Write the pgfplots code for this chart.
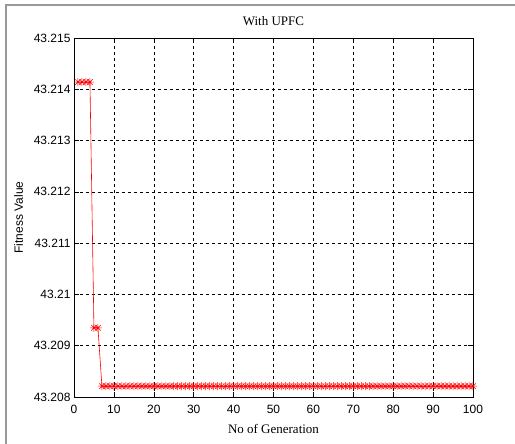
\documentclass[border=0pt]{standalone}
\usepackage{pgfplots}
\pgfplotsset{compat=1.18}
\usepackage{fontspec}
\setmainfont{Liberation Serif}
\newfontfamily\arial{Liberation Sans}
\pgfdeclareplotmark{mstar}{%
  \pgfpathmoveto{\pgfqpoint{-\pgfplotmarksize}{0pt}}\pgfpathlineto{\pgfqpoint{\pgfplotmarksize}{0pt}}%
  \pgfpathmoveto{\pgfqpoint{0pt}{-\pgfplotmarksize}}\pgfpathlineto{\pgfqpoint{0pt}{\pgfplotmarksize}}%
  \pgfpathmoveto{\pgfqpoint{-0.707\pgfplotmarksize}{-0.707\pgfplotmarksize}}\pgfpathlineto{\pgfqpoint{0.707\pgfplotmarksize}{0.707\pgfplotmarksize}}%
  \pgfpathmoveto{\pgfqpoint{-0.707\pgfplotmarksize}{0.707\pgfplotmarksize}}\pgfpathlineto{\pgfqpoint{0.707\pgfplotmarksize}{-0.707\pgfplotmarksize}}%
  \pgfusepathqstroke}
\begin{document}
\begin{tikzpicture}
\useasboundingbox (0,0) rectangle (515pt,444pt);
\fill[white] (0,0) rectangle (515pt,444pt);
\draw[gray!80, line width=1.2pt] (6pt,0) -- (6pt,439pt) -- (515pt,439pt);
\begin{axis}[
  at={(74pt,47pt)}, anchor=south west,
  scale only axis, width=399pt, height=359pt,
  xmin=0, xmax=100, ymin=43.208, ymax=43.215,
  xtick={0,10,...,100},
  xticklabels={0,10,20,30,40,50,60,70,80,90,100},
  ytick={43.208,43.209,43.210,43.211,43.212,43.213,43.214,43.215},
  yticklabels={43.208,43.209,43.21,43.211,43.212,43.213,43.214,43.215},
  scaled y ticks=false,
  /pgf/number format/assume math mode=true,
  tick label style={font=\arial\fontsize{12}{14}\selectfont},
  xticklabel style={yshift=-5pt},
  tick align=inside, major tick length=5pt,
  tick style={black, line width=0.5pt},
  grid=major,
  major grid style={black, dash pattern=on 3pt off 3pt, line width=0.5pt},
  axis line style={black, line width=0.8pt},
  title={With UPFC},
  title style={font=\fontsize{13}{15}\selectfont, at={(0.5,1)}, yshift=3pt},
  xlabel={No of Generation},
  xlabel style={font=\fontsize{13}{15}\selectfont, yshift=-3pt},
  ylabel={Fitness Value},
  ylabel style={font=\arial\fontsize{12}{14}\selectfont, yshift=4pt},
]
\addplot[red, line width=0.6pt, mark=mstar, mark size=4pt, mark options={solid, line width=0.5pt}] coordinates {
(1,43.21414)(2,43.21414)(3,43.21414)(4,43.21414)(5,43.20935)(6,43.20935)
(7,43.20821)(8,43.20821)(9,43.20821)(10,43.20821)(11,43.20821)(12,43.20821)(13,43.20821)(14,43.20821)(15,43.20821)(16,43.20821)
(17,43.20821)(18,43.20821)(19,43.20821)(20,43.20821)(21,43.20821)(22,43.20821)(23,43.20821)(24,43.20821)(25,43.20821)(26,43.20821)
(27,43.20821)(28,43.20821)(29,43.20821)(30,43.20821)(31,43.20821)(32,43.20821)(33,43.20821)(34,43.20821)(35,43.20821)(36,43.20821)
(37,43.20821)(38,43.20821)(39,43.20821)(40,43.20821)(41,43.20821)(42,43.20821)(43,43.20821)(44,43.20821)(45,43.20821)(46,43.20821)
(47,43.20821)(48,43.20821)(49,43.20821)(50,43.20821)(51,43.20821)(52,43.20821)(53,43.20821)(54,43.20821)(55,43.20821)(56,43.20821)
(57,43.20821)(58,43.20821)(59,43.20821)(60,43.20821)(61,43.20821)(62,43.20821)(63,43.20821)(64,43.20821)(65,43.20821)(66,43.20821)
(67,43.20821)(68,43.20821)(69,43.20821)(70,43.20821)(71,43.20821)(72,43.20821)(73,43.20821)(74,43.20821)(75,43.20821)(76,43.20821)
(77,43.20821)(78,43.20821)(79,43.20821)(80,43.20821)(81,43.20821)(82,43.20821)(83,43.20821)(84,43.20821)(85,43.20821)(86,43.20821)
(87,43.20821)(88,43.20821)(89,43.20821)(90,43.20821)(91,43.20821)(92,43.20821)(93,43.20821)(94,43.20821)(95,43.20821)(96,43.20821)
(97,43.20821)(98,43.20821)(99,43.20821)(100,43.20821)
};
\end{axis}
\end{tikzpicture}
\end{document}
